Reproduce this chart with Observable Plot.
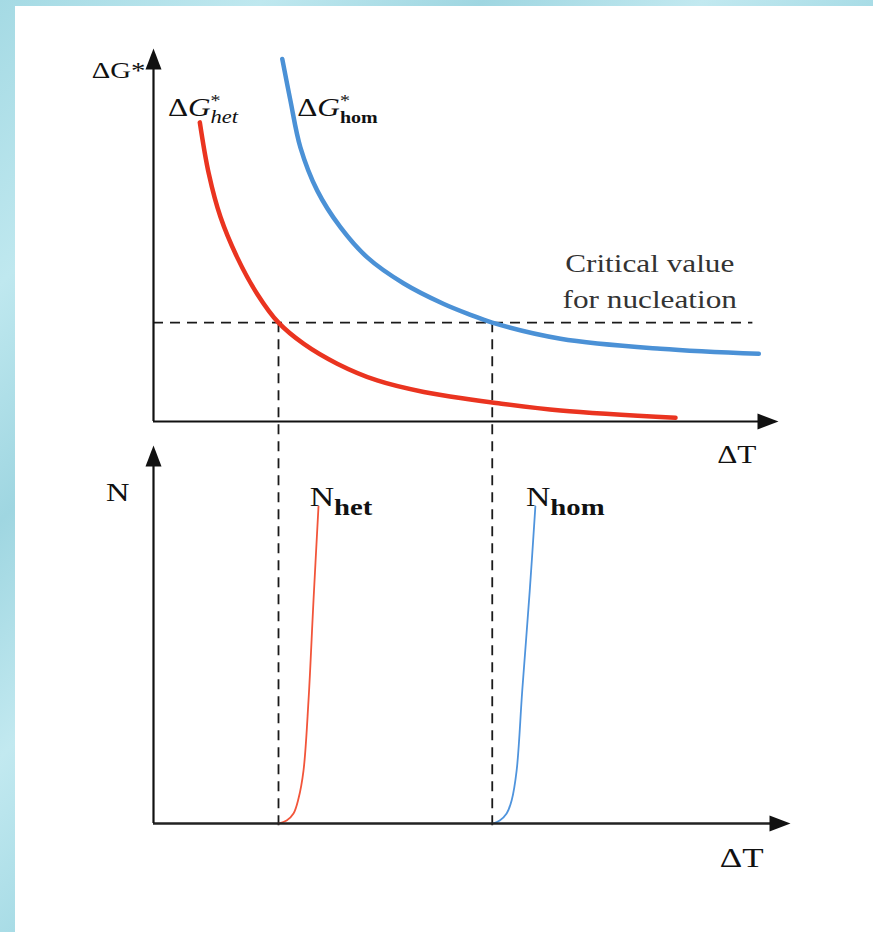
<!DOCTYPE html>
<html>
<head>
<meta charset="utf-8">
<script src="https://cdn.jsdelivr.net/npm/d3@7"></script>
<script src="https://cdn.jsdelivr.net/npm/@observablehq/plot@0.6"></script>
<style>
  html, body { margin: 0; padding: 0; background: #fff; }
  #page { position: relative; width: 873px; height: 932px; overflow: hidden; background: #fff; }
  .border { position: absolute; background: linear-gradient(135deg, #a5dae4 0%, #bfe8ef 30%, #9fd6e1 55%, #c2e9f0 80%, #a8dce6 100%); }
  #borderL { left: 0; top: 0; width: 15px; height: 932px; }
  #borderT { left: 0; top: 0; width: 873px; height: 6px; }
  #topChart { position: absolute; left: 0; top: 0; }
  #bottomChart { position: absolute; left: 0; top: 436px; }
</style>
</head>
<body>
<div id="page">
  <div class="border" id="borderL"></div>
  <div class="border" id="borderT"></div>
  <div id="topChart"></div>
  <div id="bottomChart"></div>
</div>
<script>
// ---- data (ΔT in arbitrary units 0..100, ΔG* and N in 0..100) ----
const dTHet = [7.41, 8.85, 10.72, 13.39, 16.59, 20.0, 24.05, 29.39, 35.79, 43.25, 50.72, 54.2, 65.12, 83.52];
const dGHet = [80.2, 66.4, 54.8, 44.0, 34.2, 26.5, 20.8, 15.5, 11.0, 7.9, 5.9, 5.1, 2.95, 1.0];
const dTHom = [20.6, 21.9, 23.5, 26.2, 29.9, 34.2, 40.05, 46.45, 50.72, 54.2, 65.12, 81.12, 96.85];
const dGHom = [97.2, 86.1, 73.5, 61.9, 52.1, 44.0, 37.0, 31.5, 28.6, 26.5, 22.2, 19.5, 18.15];
const nTHet = [20.0, 21.3, 22.4, 23.2, 24.0, 24.8, 25.6, 26.4];
const nHet  = [0, 0.8, 2.65, 6.6, 14.0, 32.5, 59.0, 83.9];
const nTHom = [54.3, 55.4, 56.5, 57.3, 58.1, 59.0, 60.2, 61.1];
const nHom  = [0, 0.8, 2.65, 6.1, 14.0, 35.2, 61.6, 83.9];
const criticalG = 26.5;
const criticalT = [20.0, 54.2];
const xDomain = [0, 100];
const yDomain = [0, 100];

const topLabels = [
  {text: "ΔG*", x: -1.3, y: 92.2},
  {text: "ΔG*het", x: 2.3, y: 82.0},
  {text: "ΔG*hom", x: 23.0, y: 82.0},
  {text: "Critical value\nfor nucleation", x: 79.4, y: 30.3},
  {text: "ΔT", x: 90.2, y: -11.0}
];
const bottomLabels = [
  {text: "N", x: -7.6, y: 85.4},
  {text: "Nhet", x: 25.0, y: 84.1},
  {text: "Nhom", x: 59.6, y: 84.1},
  {text: "ΔT", x: 90.6, y: -11.4}
];

// ---- build ----
const serif = "Liberation Serif, Times New Roman, serif";
const zip = (xs, ys) => xs.map((x, i) => ({x, y: ys[i]}));
const het = zip(dTHet, dGHet), hom = zip(dTHom, dGHom);
const nh = zip(nTHet, nHet), nm = zip(nTHom, nHom);

const arrowUp = {draw(ctx) { ctx.moveTo(0, 0); ctx.lineTo(-8, 21); ctx.lineTo(8, 21); ctx.closePath(); }};
const arrowRight = {draw(ctx) { ctx.moveTo(0, 0); ctx.lineTo(-21, -8); ctx.lineTo(-21, 8); ctx.closePath(); }};

const W = 873, mL = 153, mR = 95;
const topH = 436, topMT = 48, topMB = 15;
const botH = 496, botMT = 9, botMB = 109;
const yTop = d3.scaleLinear(yDomain, [topH - topMB, topMT]);
const yBot = d3.scaleLinear(yDomain, [botH - botMB, botMT]);
const dash = {stroke: "#1a1a1a", strokeWidth: 1.8, strokeDasharray: "10,7"};
const axis = {stroke: "#111", strokeWidth: 2.2};

const label = (d, opts) => Plot.text([d], {x: "x", y: "y", text: "text", fontFamily: serif, fill: "#111", lineAnchor: "bottom", textAnchor: "start", ...opts});

const topPlot = Plot.plot({
  width: W, height: topH,
  marginLeft: mL, marginRight: mR, marginTop: topMT, marginBottom: topMB,
  x: {domain: xDomain, axis: null},
  y: {domain: yDomain, axis: null},
  style: {background: "transparent", overflow: "visible", fontFamily: serif},
  marks: [
    Plot.ruleY([criticalG], {x1: 0, x2: 95.9, ...dash}),
    Plot.ruleX(criticalT, {x: d => d, y1: criticalG, y2: yTop.invert(topH), ...dash}),
    Plot.line(het, {x: "x", y: "y", stroke: "#ea3420", strokeWidth: 4.5, curve: "catmull-rom"}),
    Plot.line(hom, {x: "x", y: "y", stroke: "#4b91d6", strokeWidth: 4.5, curve: "catmull-rom"}),
    Plot.ruleY([0], {x1: 0, x2: 97, ...axis}),
    Plot.ruleX([0], {y1: 0, y2: 96, ...axis}),
    Plot.dot([{x: 100, y: 0}], {x: "x", y: "y", symbol: arrowRight, fill: "#111", stroke: "none"}),
    Plot.dot([{x: 0, y: 100}], {x: "x", y: "y", symbol: arrowUp, fill: "#111", stroke: "none"}),
    label(topLabels[0], {fontSize: 23, textAnchor: "end"}),
    label(topLabels[1], {fontSize: 25}),
    label(topLabels[2], {fontSize: 25}),
    label(topLabels[3], {fontSize: 25, textAnchor: "middle", lineHeight: 1.44, fill: "#333"}),
    label(topLabels[4], {fontSize: 25})
  ]
});

const botPlot = Plot.plot({
  width: W, height: botH,
  marginLeft: mL, marginRight: mR, marginTop: botMT, marginBottom: botMB,
  x: {domain: xDomain, axis: null},
  y: {domain: yDomain, axis: null},
  style: {background: "transparent", overflow: "visible", fontFamily: serif},
  marks: [
    Plot.ruleX(criticalT, {x: d => d, y1: yBot.invert(0), y2: yBot.invert(botH - botMB + 7), ...dash, strokeDashoffset: 11.8}),
    Plot.line(nh, {x: "x", y: "y", stroke: "#f2553a", strokeWidth: 1.8, curve: "catmull-rom"}),
    Plot.line(nm, {x: "x", y: "y", stroke: "#4f94dd", strokeWidth: 1.8, curve: "catmull-rom"}),
    Plot.ruleY([0], {x1: 0, x2: 99, stroke: "#222", strokeWidth: 2.4}),
    Plot.ruleX([0], {y1: 0, y2: 96, ...axis}),
    Plot.dot([{x: 101.92, y: 0}], {x: "x", y: "y", symbol: arrowRight, fill: "#111", stroke: "none"}),
    Plot.dot([{x: 0, y: 100}], {x: "x", y: "y", symbol: arrowUp, fill: "#111", stroke: "none"}),
    label(bottomLabels[0], {fontSize: 26}),
    label(bottomLabels[1], {fontSize: 27}),
    label(bottomLabels[2], {fontSize: 27}),
    label(bottomLabels[3], {fontSize: 28})
  ]
});

// ---- rich text (super/subscripts) ----
function rich(svg, content, parts) {
  const t = [...svg.querySelectorAll("text")].find(e => e.textContent === content);
  if (!t) return;
  t.textContent = "";
  for (const p of parts) {
    const s = document.createElementNS("http://www.w3.org/2000/svg", "tspan");
    s.textContent = p.text;
    for (const [k, v] of Object.entries(p.attrs || {})) s.setAttribute(k, v);
    t.appendChild(s);
  }
}
rich(topPlot, "ΔG*het", [
  {text: "Δ"}, {text: "G", attrs: {"font-style": "italic"}},
  {text: "*", attrs: {"font-size": 16, dy: -10}},
  {text: "het", attrs: {"font-style": "italic", "font-size": 18, dx: -8, dy: 17}}
]);
rich(topPlot, "ΔG*hom", [
  {text: "Δ"}, {text: "G", attrs: {"font-style": "italic"}},
  {text: "*", attrs: {"font-size": 16, dy: -10}},
  {text: "hom", attrs: {"font-weight": "bold", "font-size": 16, dx: -8, dy: 17}}
]);
rich(botPlot, "Nhet", [
  {text: "N"}, {text: "het", attrs: {"font-weight": "bold", "font-size": 23, dy: 9}}
]);
rich(botPlot, "Nhom", [
  {text: "N"}, {text: "hom", attrs: {"font-weight": "bold", "font-size": 23, dy: 9}}
]);
// the reference glyphs are horizontally wide
for (const svg of [topPlot, botPlot]) {
  svg.querySelectorAll("text").forEach(t => t.setAttribute("transform", (t.getAttribute("transform") || "") + " scale(1.25,1)"));
}

document.getElementById("topChart").append(topPlot);
document.getElementById("bottomChart").append(botPlot);
</script>
</body>
</html>
